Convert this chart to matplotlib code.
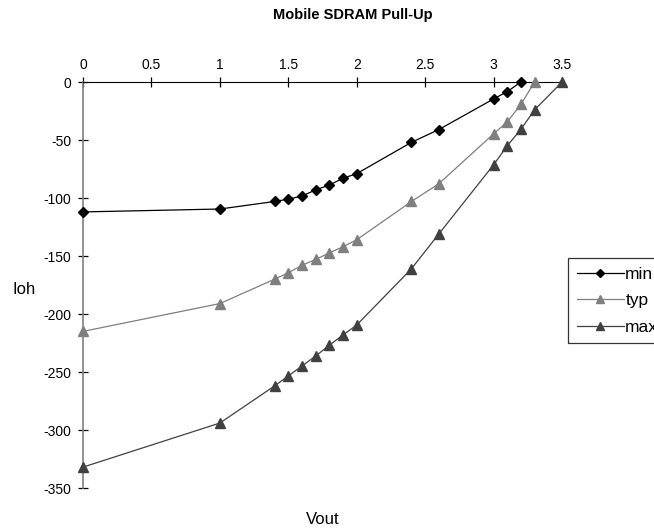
import matplotlib
matplotlib.use("Agg")
import matplotlib.pyplot as plt

plt.rcParams['font.family'] = ['Liberation Sans', 'DejaVu Sans']
plt.rcParams['axes.unicode_minus'] = False

#data (Vout in V, Ioh in mA)
vout_min = [0, 1.0, 1.4, 1.5, 1.6, 1.7, 1.8, 1.9, 2.0, 2.4, 2.6, 3.0, 3.1, 3.2]
ioh_min = [-112, -109.5, -103, -101, -98.3, -93, -88.8, -83, -79, -52, -41, -14.6, -8.3, 0]

vout_typ = [0, 1.0, 1.4, 1.5, 1.6, 1.7, 1.8, 1.9, 2.0, 2.4, 2.6, 3.0, 3.1, 3.2, 3.3]
ioh_typ = [-215, -191, -170, -164.5, -158, -153, -147.3, -142, -136, -103, -87.7, -44.7, -34.4, -19.2, 0]

vout_max = [0, 1.0, 1.4, 1.5, 1.6, 1.7, 1.8, 1.9, 2.0, 2.4, 2.6, 3.0, 3.1, 3.2, 3.3, 3.5]
ioh_max = [-332, -294, -262, -253.4, -244.8, -236.2, -227, -218, -209.5, -161, -131, -71.4, -55, -40.7, -24, 0]

x_ticks = [0, 0.5, 1, 1.5, 2, 2.5, 3, 3.5]
x_labels = ["0", "0.5", "1", "1.5", "2", "2.5", "3", "3.5"]
y_ticks = [0, -50, -100, -150, -200, -250, -300, -350]

fig = plt.figure(figsize=(6.54, 5.29), dpi=100)
ax = fig.add_axes([83/654, 1 - 488/529, (562 - 83)/654, (488 - 82)/529])

ax.plot(vout_min, ioh_min, color="black", lw=0.9, marker="D", ms=5.5,
        mfc="black", mec="black", label="min", clip_on=False, zorder=3)
ax.plot(vout_typ, ioh_typ, color="#7f7f7f", lw=0.9, marker="^", ms=7,
        mfc="#7f7f7f", mec="#7f7f7f", label="typ", clip_on=False, zorder=3)
ax.plot(vout_max, ioh_max, color="#404040", lw=0.9, marker="^", ms=7,
        mfc="#404040", mec="#404040", label="max", clip_on=False, zorder=3)

ax.set_xlim(0, 3.5)
ax.set_ylim(-350, 0)
ax.set_xticks(x_ticks)
ax.set_xticklabels(x_labels)
ax.set_yticks(y_ticks)
ax.xaxis.tick_top()
ax.spines["right"].set_visible(False)
ax.spines["bottom"].set_visible(False)
ax.spines["top"].set_color("black")
ax.spines["left"].set_color("#808080")
ax.spines["left"].set_linewidth(1.2)
ax.tick_params(axis="both", direction="inout", length=7, width=0.9,
               labelsize=10, color="black")
ax.tick_params(axis="x", pad=4)
ax.tick_params(axis="y", pad=5)

fig.text(353/654, 1 - 15/529, "Mobile SDRAM Pull-Up", ha="center", va="center",
         fontsize=10.5, fontweight="bold")
fig.text(24/654, 1 - 290/529, "Ioh", ha="center", va="center", fontsize=12)
fig.text(323/654, 1 - 519/529, "Vout", ha="center", va="center", fontsize=12)

leg = fig.legend(loc="upper left", bbox_to_anchor=(568/654, 1 - 258/529),
                 fontsize=12.5, frameon=True, fancybox=False, borderpad=0.5,
                 labelspacing=0.65, handlelength=2.7, handletextpad=0.1,
                 borderaxespad=0, markerscale=0.75)
leg.get_frame().set_edgecolor("black")
leg.get_frame().set_linewidth(0.9)

plt.savefig("out.png", dpi=100)
